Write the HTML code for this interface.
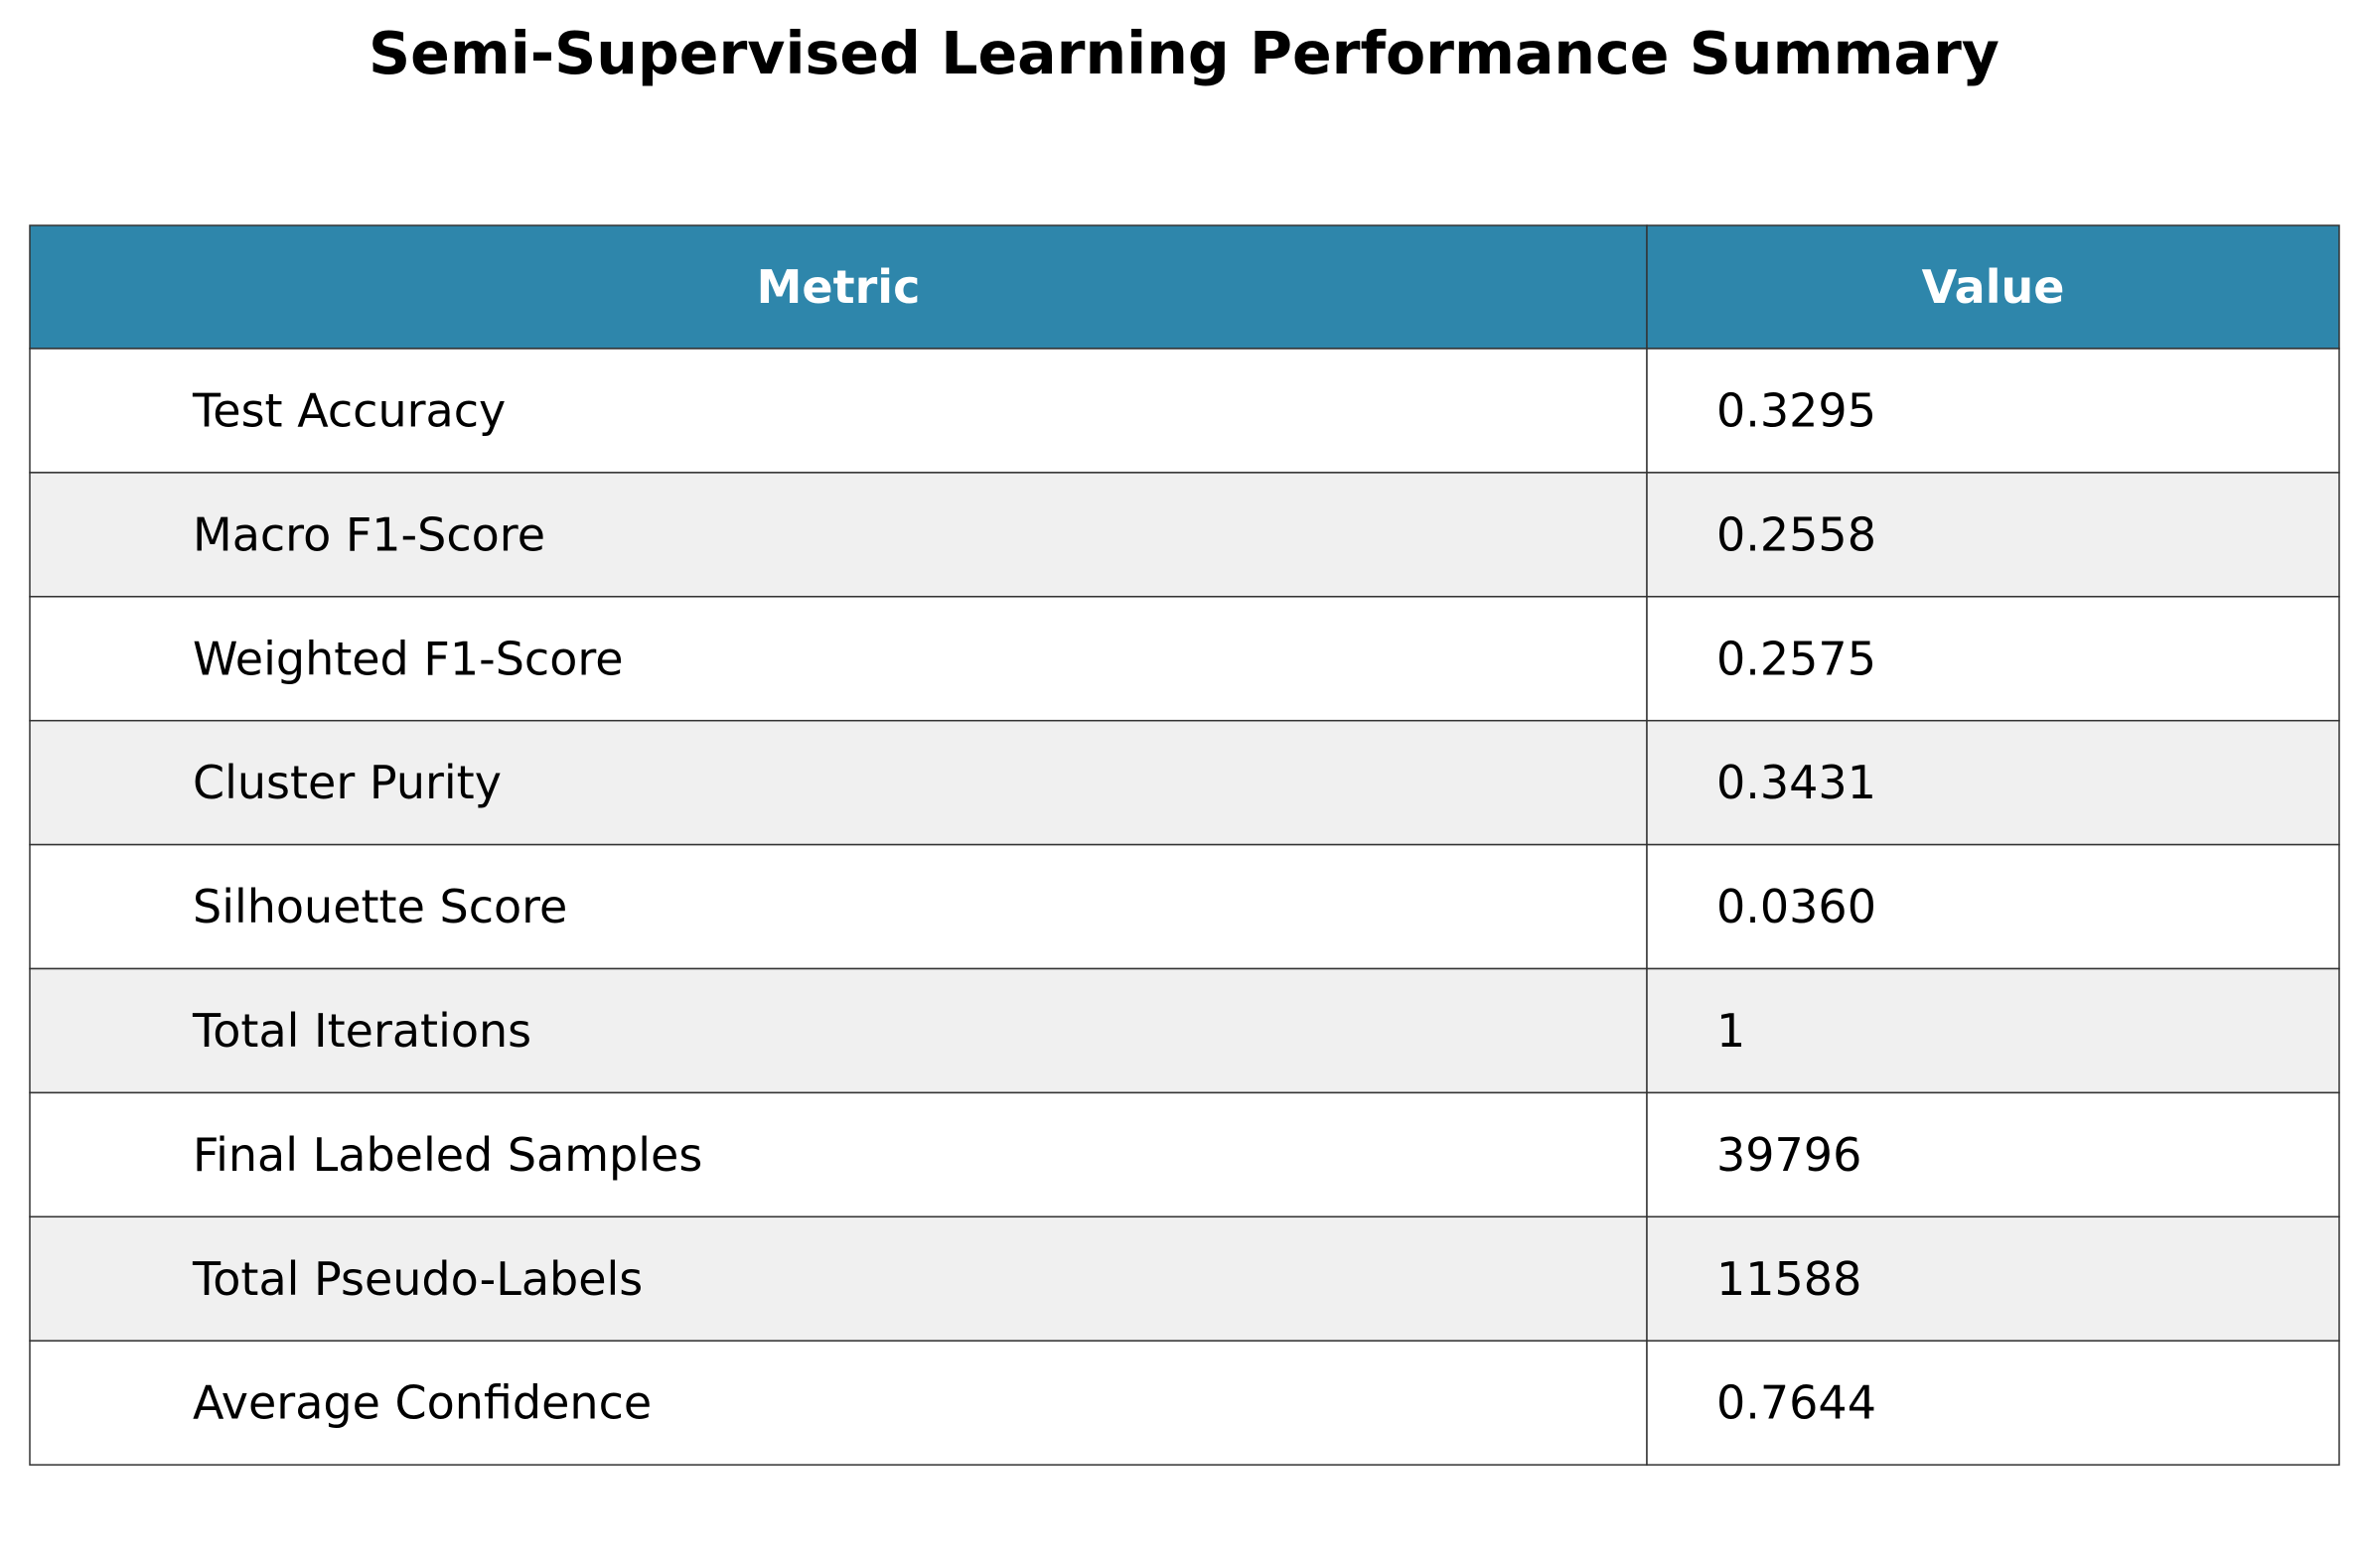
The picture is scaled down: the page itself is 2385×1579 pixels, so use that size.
<!DOCTYPE html>
<html><head><meta charset="utf-8"><style>
body{margin:0;background:#fff;}
svg text{font-family:"DejaVu Sans","Liberation Sans",sans-serif;}
</style></head><body>
<svg width="2385" height="1574" xmlns="http://www.w3.org/2000/svg">
<text x="1192" y="74" text-anchor="middle" font-size="58.5" font-weight="bold" fill="#000">Semi-Supervised Learning Performance Summary</text>
<g id="tbl"></g>
</svg>
<script>
const metrics=["Test Accuracy","Macro F1-Score","Weighted F1-Score","Cluster Purity","Silhouette Score","Total Iterations","Final Labeled Samples","Total Pseudo-Labels","Average Confidence"];
const values=["0.3295","0.2558","0.2575","0.3431","0.0360","1","39796","11588","0.7644"];
const ns="http://www.w3.org/2000/svg";
const g=document.getElementById('tbl');
const L=30,R=2355,D=1658,T=227,HH=124,RH=124.9;
function mk(tag,attrs){const e=document.createElementNS(ns,tag);for(const k in attrs)e.setAttribute(k,attrs[k]);g.appendChild(e);return e;}
let h=mk('rect',{x:L,y:T,width:D-L,height:HH,fill:'#2e86ab',stroke:'#333','stroke-width':1.5});


h=mk('rect',{x:D,y:T,width:R-D,height:HH,fill:'#2e86ab',stroke:'#333','stroke-width':1.5});


let t=mk('text',{x:(L+D)/2,y:T+HH/2+16,'text-anchor':'middle','font-size':46,'font-weight':'bold',fill:'#fff'});t.textContent='Metric';


t=mk('text',{x:(D+R)/2,y:T+HH/2+16,'text-anchor':'middle','font-size':46,'font-weight':'bold',fill:'#fff'});t.textContent='Value';


metrics.forEach((m,i)=>{
 const y=T+HH+i*RH, fill=i%2?'#f0f0f0':'#fff';
 let a=mk('rect',{x:L,y:y,width:D-L,height:RH,fill:fill,stroke:'#333','stroke-width':1.5});
 
 
 let b=mk('rect',{x:D,y:y,width:R-D,height:RH,fill:fill,stroke:'#333','stroke-width':1.5});
 
 
 let tm=mk('text',{x:194,y:y+RH/2+16,'font-size':46,fill:'#000'});tm.textContent=m;
 
 
 let tv=mk('text',{x:1728,y:y+RH/2+16,'font-size':46,fill:'#000'});tv.textContent=values[i];
 
 
});
</script>
</body></html>
